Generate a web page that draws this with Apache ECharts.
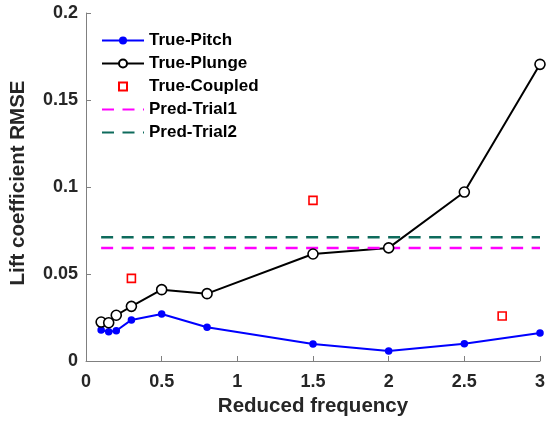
<!DOCTYPE html>
<html>
<head>
<meta charset="utf-8">
<script src="https://cdn.jsdelivr.net/npm/echarts@6/dist/echarts.min.js"></script>
<style>
  html, body { margin: 0; padding: 0; background: #fff; }
  #chart { width: 548px; height: 423px; }
</style>
</head>
<body>
<div id="chart"></div>
<script>
// Reduced frequencies tested
const freqs = [0.1, 0.15, 0.2, 0.3, 0.5, 0.8, 1.5, 2, 2.5, 3];
// Lift coefficient RMSE per case
const pitchRmse  = [0.0178, 0.0168, 0.0174, 0.0236, 0.0270, 0.0194, 0.0098, 0.0057, 0.0099, 0.0161];
const plungeRmse = [0.0224, 0.0220, 0.0263, 0.0314, 0.0410, 0.0387, 0.0615, 0.0650, 0.0971, 0.1705];
const coupledFreqs = [0.3, 1.5, 2.75];
const coupledRmse  = [0.0475, 0.0923, 0.0259];
// Prediction trials (constant over the frequency range)
const predRange = [0.1, 3];
const predTrial1 = 0.065;
const predTrial2 = 0.0711;

const xTicks = [0, 0.5, 1, 1.5, 2, 2.5, 3];
const yTicks = [0, 0.05, 0.1, 0.15, 0.2];

const pair = (xs, ys) => xs.map((x, i) => [x, ys[i]]);
const flat = (v) => predRange.map(x => [x, v]);

const font = 'Liberation Sans, Arial, sans-serif';
const textColor = '#262626';
const axisColor = '#808080';
const dash = [12, 8.5];

const chart = echarts.init(document.getElementById('chart'), null, { renderer: 'canvas' });
chart.setOption({
  animation: false,
  backgroundColor: '#ffffff',
  grid: { left: 86, right: 7, top: 13, bottom: 62, containLabel: false },
  legend: {
    left: 96, top: 27,
    orient: 'vertical',
    itemWidth: 42, itemHeight: 10, itemGap: 6,
    textStyle: { fontFamily: font, fontWeight: 'bold', fontSize: 17, color: '#000' },
    data: [
      { name: 'True-Pitch' },
      { name: 'True-Plunge' },
      { name: 'True-Coupled' },
      { name: 'Pred-Trial1', itemStyle: { opacity: 0 } },
      { name: 'Pred-Trial2', itemStyle: { opacity: 0 } }
    ]
  },
  xAxis: {
    type: 'value', min: xTicks[0], max: xTicks[xTicks.length - 1], interval: 0.5,
    name: 'Reduced frequency', nameLocation: 'middle', nameGap: 29,
    nameTextStyle: { fontFamily: font, fontWeight: 'bold', fontSize: 20.5, color: textColor },
    axisLine: { lineStyle: { color: axisColor, width: 1 } },
    axisTick: { inside: true, length: 5, lineStyle: { color: axisColor } },
    axisLabel: { fontFamily: font, fontWeight: 'bold', fontSize: 18, color: textColor, margin: 12 },
    splitLine: { show: false }
  },
  yAxis: {
    type: 'value', min: yTicks[0], max: yTicks[yTicks.length - 1], interval: 0.05,
    name: 'Lift coefficient RMSE', nameLocation: 'middle', nameGap: 57,
    nameTextStyle: { fontFamily: font, fontWeight: 'bold', fontSize: 20.5, color: textColor, padding: [0, 0, 0, 8] },
    axisLine: { show: true, lineStyle: { color: axisColor, width: 1 } },
    axisTick: { show: true, inside: true, length: 5, lineStyle: { color: axisColor } },
    axisLabel: { fontFamily: font, fontWeight: 'bold', fontSize: 18, color: textColor, margin: 8 },
    splitLine: { show: false }
  },
  series: [
    {
      name: 'True-Pitch', type: 'line', data: pair(freqs, pitchRmse),
      lineStyle: { color: '#0000ff', width: 2 },
      itemStyle: { color: '#0000ff' },
      symbol: 'circle', symbolSize: 7.5, showAllSymbol: true
    },
    {
      name: 'True-Plunge', type: 'line', data: pair(freqs, plungeRmse),
      lineStyle: { color: '#000000', width: 2 },
      itemStyle: { color: '#ffffff', borderColor: '#000000', borderWidth: 1.6 },
      symbol: 'circle', symbolSize: 10, showAllSymbol: true
    },
    {
      // markers only: the connecting line is hidden
      name: 'True-Coupled', type: 'line', data: pair(coupledFreqs, coupledRmse),
      lineStyle: { color: '#ff0000', width: 0, opacity: 0 },
      itemStyle: { color: '#ffffff', borderColor: '#ff0000', borderWidth: 1.6 },
      symbol: 'rect', symbolSize: 8, showAllSymbol: true
    },
    {
      name: 'Pred-Trial1', type: 'line', data: flat(predTrial1),
      lineStyle: { color: '#ff00ff', width: 2.5, type: dash },
      itemStyle: { color: '#ff00ff' },
      symbol: 'none'
    },
    {
      name: 'Pred-Trial2', type: 'line', data: flat(predTrial2),
      lineStyle: { color: '#0e6b5c', width: 2.5, type: dash },
      itemStyle: { color: '#0e6b5c' },
      symbol: 'none'
    }
  ]
});
</script>
</body>
</html>
